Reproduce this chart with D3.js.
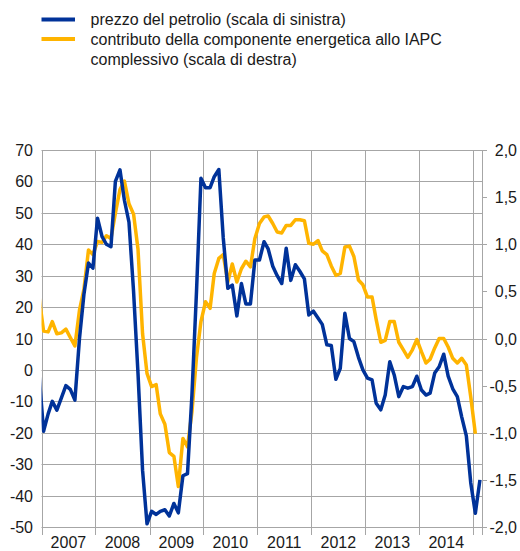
<!DOCTYPE html>
<html>
<head>
<meta charset="utf-8">
<script src="https://cdn.jsdelivr.net/npm/d3@7"></script>
<style>
  html, body { margin: 0; padding: 0; background: #fff; }
  svg { display: block; font-family: "Liberation Sans", Arial, sans-serif; }
</style>
</head>
<body>
<svg id="chart" width="520" height="551"></svg>
<script>
// ---- data (monthly, first value = Dec 2006) ----
const firstMonth = [2006, 11]; // December 2006 (month index 0-based)
const oilPrice = [
  -1,
  -19.5, -14, -10, -12.8, -9, -5, -6.2, -9.6, 10, 24, 34, 32.4,          // 2007
  48.3, 42.4, 40, 39.2, 60, 63.7, 54, 47, 25, -1, -32, -49,               // 2008
  -45, -46, -45, -44.5, -46.5, -42.5, -45.5, -33.7, -33, -8, 25, 61,      // 2009
  58, 58, 61.5, 63.8, 42, 26, 27, 17.2, 27.5, 21, 21, 35,                 // 2010
  35, 40.8, 38.5, 33, 30, 27.5, 38.7, 28.5, 33.5, 31.4, 29, 17.5,         // 2011
  18.7, 16.5, 14.5, 8, 7.8, -3, 0.5, 18, 10, 9, 4, 0,                     // 2012
  -2.6, -3.2, -10.6, -12.7, -8, 2.6, -1.6, -8.5, -5.3, -5.8, -5.3, -2,    // 2013
  -6.4, -8, -7.4, -1, 1, 5, -2, -6, -8.5, -15, -21, -36,                  // 2014
  -45.6, -35                                                               // 2015
];
const energyContribution = [
  0.45,
  0.08, 0.07, 0.18, 0.05, 0.06, 0.10, 0.01, -0.08, 0.30, 0.52, 0.94, 0.89,          // 2007
  1.03, 1.02, 1.09, 1.06, 1.33, 1.58, 1.67, 1.43, 1.32, 0.95, 0.05, -0.37,          // 2008
  -0.51, -0.49, -0.80, -0.91, -1.21, -1.25, -1.57, -1.06, -1.15, -0.78, -0.20, 0.18,// 2009
  0.39, 0.32, 0.69, 0.85, 0.89, 0.60, 0.79, 0.60, 0.74, 0.82, 0.76, 1.06,           // 2010
  1.22, 1.29, 1.30, 1.22, 1.13, 1.12, 1.20, 1.20, 1.26, 1.26, 1.25, 1.01,           // 2011
  1.00, 1.04, 0.93, 0.89, 0.77, 0.67, 0.69, 0.97, 0.98, 0.87, 0.62, 0.57,           // 2012
  0.44, 0.44, 0.20, -0.04, -0.02, 0.18, 0.18, -0.04, -0.12, -0.20, -0.12, -0.01,    // 2013
  -0.14, -0.26, -0.22, -0.10, 0.00, 0.00, -0.09, -0.21, -0.26, -0.21, -0.28, -0.62, // 2014
  -1.01                                                                              // 2015
];
const leftTicks = [-50, -40, -30, -20, -10, 0, 10, 20, 30, 40, 50, 60, 70];
const rightTicks = [-2.0, -1.5, -1.0, -0.5, 0.0, 0.5, 1.0, 1.5, 2.0];
const yearLabels = ["2007", "2008", "2009", "2010", "2011", "2012", "2013", "2014"];
const legendItems = [
  { lines: ["prezzo del petrolio (scala di sinistra)"], color: "#003299" },
  { lines: ["contributo della componente energetica allo IAPC", "complessivo (scala di destra)"], color: "#FFB400" }
];

// ---- layout ----
const svg = d3.select("#chart");
const L = 41.5, R = 482, T = 150, B = 527;
const gridColor = "#a6a6a6";
const textColor = "#1a1a1a";

const x = d3.scaleTime()
  .domain([new Date(2007, 0, 1), new Date(2015, 2, 1)])
  .range([L, R]);
const yL = d3.scaleLinear().domain([-50, 70]).range([B, T]);
const yR = d3.scaleLinear().domain([-2, 2]).range([B, T]);

const dateOf = i => new Date(firstMonth[0], firstMonth[1] + i, 15);

// clip
svg.append("clipPath").attr("id", "plotclip")
  .append("rect").attr("x", L).attr("y", 0).attr("width", R - L).attr("height", 551);

// horizontal gridlines
svg.append("g").selectAll("line").data(leftTicks).join("line")
  .attr("x1", L).attr("x2", R)
  .attr("y1", d => Math.round(yL(d)) + 0.5).attr("y2", d => Math.round(yL(d)) + 0.5)
  .attr("stroke", gridColor).attr("stroke-width", 1);

// vertical year lines (with ticks below)
const yearStarts = d3.range(2007, 2016).map(yr => new Date(yr, 0, 1));
svg.append("g").selectAll("line").data(yearStarts).join("line")
  .attr("x1", d => Math.round(x(d)) + 0.5).attr("x2", d => Math.round(x(d)) + 0.5)
  .attr("y1", T).attr("y2", B + 8)
  .attr("stroke", gridColor).attr("stroke-width", 1);

// right axis line and ticks
svg.append("line").attr("x1", R + 0.5).attr("x2", R + 0.5).attr("y1", T).attr("y2", B + 8)
  .attr("stroke", gridColor).attr("stroke-width", 1);
svg.append("g").selectAll("line").data(rightTicks).join("line")
  .attr("x1", R).attr("x2", R + 5)
  .attr("y1", d => Math.round(yR(d)) + 0.5).attr("y2", d => Math.round(yR(d)) + 0.5)
  .attr("stroke", gridColor).attr("stroke-width", 1);

// left labels
svg.append("g").selectAll("text").data(leftTicks).join("text")
  .attr("x", 33).attr("y", d => yL(d) + 6)
  .attr("text-anchor", "end").attr("font-size", 16).attr("fill", textColor)
  .text(d => d);

// right labels
const fmtR = d => d3.format(".1f")(d).replace(".", ",").replace("−", "-");
svg.append("g").selectAll("text").data(rightTicks).join("text")
  .attr("x", 517).attr("y", d => yR(d) + 6)
  .attr("text-anchor", "end").attr("font-size", 16).attr("fill", textColor)
  .text(d => fmtR(d));

// year labels
svg.append("g").selectAll("text").data(yearLabels).join("text")
  .attr("x", d => x(new Date(+d, 6, 2)))
  .attr("y", 547.5)
  .attr("text-anchor", "middle").attr("font-size", 16).attr("fill", textColor)
  .text(d => d);

// lines
const lineL = d3.line().x((d, i) => x(dateOf(i))).y(d => yL(d));
const lineR = d3.line().x((d, i) => x(dateOf(i))).y(d => yR(d));
const g = svg.append("g").attr("clip-path", "url(#plotclip)");
g.append("path").datum(energyContribution).attr("d", lineR)
  .attr("fill", "none").attr("stroke", legendItems[1].color).attr("stroke-width", 3.5)
  .attr("stroke-linejoin", "round");
g.append("path").datum(oilPrice).attr("d", lineL)
  .attr("fill", "none").attr("stroke", legendItems[0].color).attr("stroke-width", 3.5)
  .attr("stroke-linejoin", "round");

// legend
const legendRows = [19.5, 39];
legendItems.forEach((item, k) => {
  const ly = legendRows[k];
  svg.append("line").attr("x1", 41.5).attr("x2", 75).attr("y1", ly).attr("y2", ly)
    .attr("stroke", item.color).attr("stroke-width", 4);
  item.lines.forEach((t, j) => {
    svg.append("text").attr("x", 90.5).attr("y", ly + 5.8 + j * 20)
      .attr("font-size", 16).attr("fill", textColor).text(t);
  });
});
</script>
</body>
</html>
